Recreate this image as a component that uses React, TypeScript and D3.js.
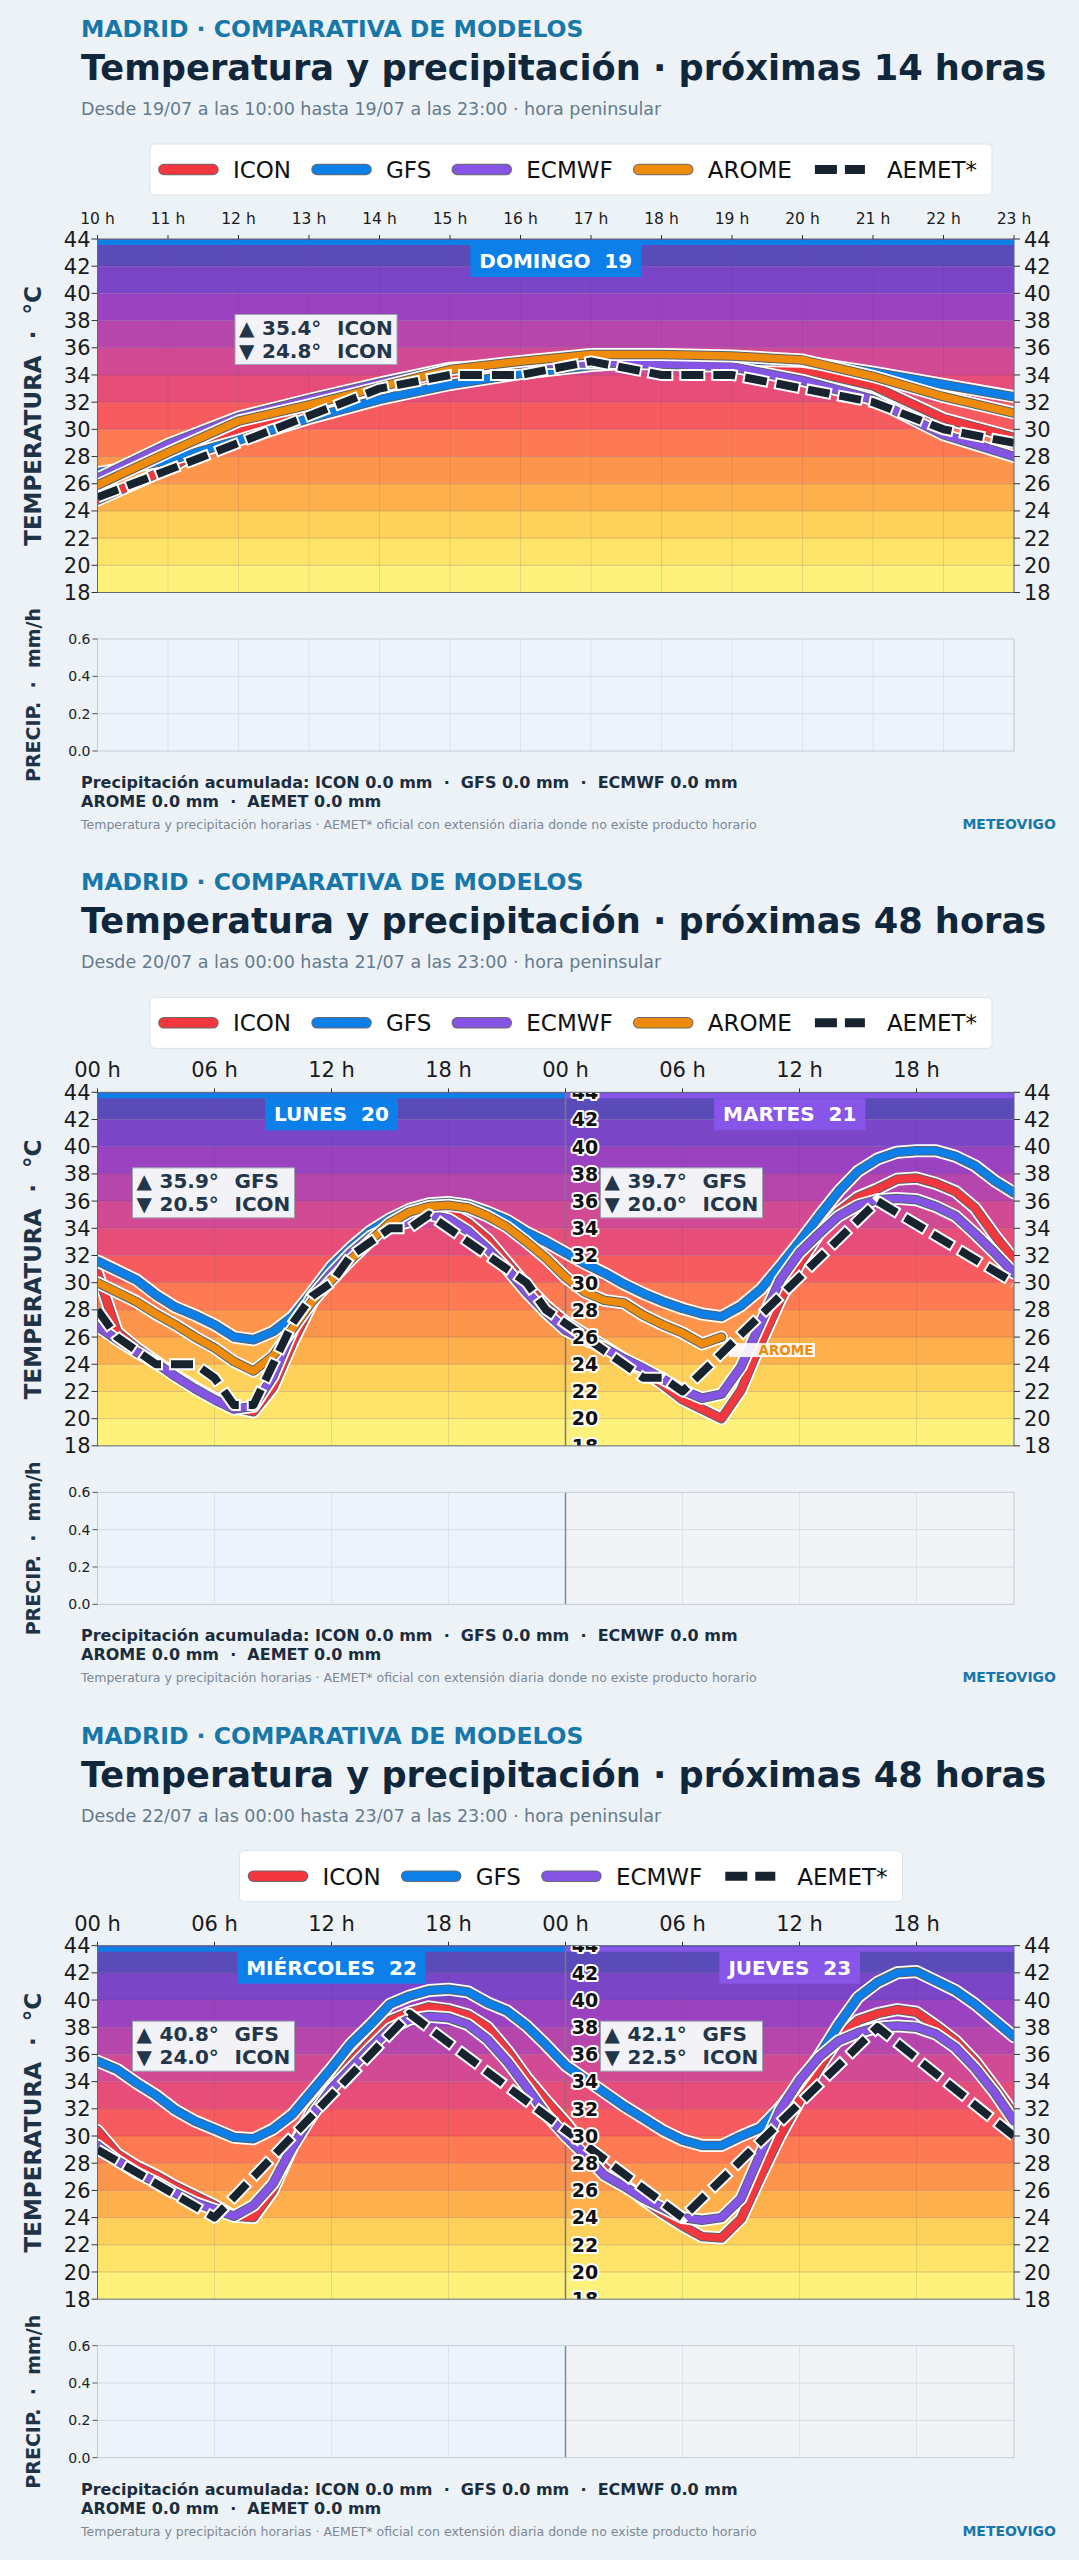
import React, { useEffect } from "react";
import * as d3 from "d3";

const W = 1079;
const H = 2560;
const PANEL_H = H / 3;
const FONT = "'DejaVu Sans', Verdana, sans-serif";

// plot frame (panel coordinates)
const PL = 97.5;
const PR = 1014;
const TT = 239;
const TB = 592.5;
const PT = 639;
const PB = 751;

const MODEL_COLORS: Record<string, string> = {
  ICON: "#f2383e",
  GFS: "#0c7fe9",
  ECMWF: "#8654e5",
  AROME: "#ef8b0b",
};
const AEMET_COLOR = "#17232f";

// temperature colour bands, 2 °C each
const bandStarts = [18, 20, 22, 24, 26, 28, 30, 32, 34, 36, 38, 40, 42];
const bandColors = [
  "#fef27c", "#fee469", "#fed25a", "#fdb04c", "#fd964c", "#fe7a52", "#f55b5f",
  "#e64d78", "#d24a93", "#b646ab", "#9a42c0", "#7a46c7", "#5b4bb8",
];
const tempTicks = [18, 20, 22, 24, 26, 28, 30, 32, 34, 36, 38, 40, 42, 44];
const precipTicks = [0, 0.2, 0.4, 0.6];

// ---- panel 1: 19/07 10 h … 23 h
const p1Hours = [10, 11, 12, 13, 14, 15, 16, 17, 18, 19, 20, 21, 22, 23];
const p1Icon = [24.8, 27.1, 29.9, 31.4, 32.8, 33.8, 34.6, 35.3, 35.4, 35.2, 34.4, 33.2, 30.8, 29.4];
const p1Gfs = [26.8, 27.7, 29.2, 30.8, 32.2, 33.3, 34.1, 34.7, 35.0, 35.1, 35.0, 34.2, 33.3, 32.4];
const p1Ecmwf = [26.4, 28.9, 30.9, 32.2, 33.4, 34.5, 34.8, 34.9, 34.8, 34.6, 33.6, 32.2, 29.6, 28.0];
const p1Arome = [25.9, 28.3, 30.6, 31.8, 33.1, 34.4, 35.0, 35.5, 35.5, 35.4, 35.1, 33.9, 32.4, 31.2];
const p1Aemet = [25, 27, 29, 31, 33, 34, 34, 35, 34, 34, 33, 32, 30, 29];

// ---- panel 2: 20/07 00 h … 21/07 23 h (hour 0..47)
const p2Icon = [
  30.7, 26.4, 25.2, 24.2, 23.2, 22.3, 21.5, 20.8, 20.5, 22.3, 25.6, 28.5, 30.5, 32.0, 33.3, 34.2,
  34.8, 35.2, 35.2, 34.4, 33.2, 31.5, 29.8, 28.3, 27.1, 26.2, 25.3, 24.4, 23.5, 22.5, 21.4, 20.7,
  20.0, 22.1, 25.5, 28.7, 31.4, 33.6, 35.2, 36.3, 36.9, 37.6, 37.7, 37.3, 36.7, 35.5, 33.5, 31.7,
];
const p2Gfs = [
  31.6, 30.9, 30.2, 29.1, 28.2, 27.6, 26.9, 26.0, 25.8, 26.4, 27.5, 29.3, 31.2, 32.6, 33.8, 34.7,
  35.4, 35.8, 35.9, 35.7, 35.2, 34.6, 33.7, 33.0, 32.2, 31.4, 30.7, 29.9, 29.2, 28.6, 28.1, 27.7,
  27.5, 28.3, 29.5, 31.2, 33.0, 34.9, 36.7, 38.2, 39.1, 39.6, 39.7, 39.7, 39.3, 38.6, 37.5, 36.6,
];
const p2Ecmwf = [
  26.8, 25.8, 24.9, 24.1, 23.1, 22.2, 21.4, 20.7, 20.9, 23.1, 26.5, 29.0, 30.7, 32.2, 33.4, 34.1,
  34.5, 35.0, 34.7, 33.8, 32.5, 31.0, 29.3, 27.8, 26.5, 25.8, 25.2, 24.4, 23.7, 22.9, 22.1, 21.5,
  21.8, 23.8, 27.0, 30.2, 32.2, 33.6, 34.9, 35.7, 36.1, 36.2, 36.1, 35.6, 34.9, 33.6, 32.2, 30.7,
];
const p2Arome = [
  30.0, 29.3, 28.6, 27.7, 26.9, 26.0, 25.2, 24.2, 23.5, 24.6, 26.6, 28.6, 30.2, 31.7, 33.1, 34.4,
  35.2, 35.6, 35.7, 35.5, 34.9, 34.1, 33.0, 31.8, 30.4, 29.3, 28.7, 28.5, 27.6, 26.9, 26.3, 25.5,
  26.0,
];
// AEMET: hourly product, then daily extension points [hour, °C]
const p2Aemet: [number, number][] = [
  [0, 28], [1, 26], [2, 25], [3, 24], [4, 24], [5, 24], [6, 23], [7, 21], [8, 21], [9, 24],
  [10, 27], [11, 29], [12, 30], [13, 32], [14, 33], [15, 34], [16, 34], [17, 35], [18, 34],
  [19, 33], [20, 32], [21, 31], [22, 30], [23, 28], [24, 27], [25, 26], [26, 25], [27, 24],
  [28, 23], [29, 23], [30, 22], [40, 36], [47, 30],
];

// ---- panel 3: 22/07 00 h … 23/07 23 h
const p3Icon = [
  30.4, 28.7, 27.8, 27.1, 26.3, 25.6, 24.9, 24.1, 24.0, 26.0, 29.2, 31.9, 33.6, 35.5, 37.0, 38.5,
  39.1, 39.5, 39.3, 38.9, 38.0, 36.3, 34.3, 32.6, 31.0, 29.2, 27.6, 26.5, 25.3, 24.3, 23.4, 22.6,
  22.5, 23.9, 27.0, 30.0, 32.6, 35.0, 37.2, 38.5, 39.0, 39.3, 39.1, 38.1, 37.0, 35.5, 33.6, 31.6,
];
const p3Gfs = [
  35.5, 34.9, 33.9, 33.0, 31.9, 31.1, 30.5, 29.9, 29.8, 30.5, 31.6, 33.3, 35.0, 36.8, 38.2, 39.7,
  40.3, 40.7, 40.8, 40.6, 39.8, 39.2, 38.1, 36.7, 35.2, 34.2, 33.2, 32.2, 31.3, 30.4, 29.7, 29.3,
  29.3, 30.0, 30.6, 32.1, 33.9, 35.9, 38.2, 40.2, 41.3, 42.0, 42.1, 41.4, 40.7, 39.7, 38.5, 37.3,
];
const p3Ecmwf = [
  29.3, 28.2, 27.3, 26.6, 25.8, 25.1, 24.6, 24.1, 24.9, 26.5, 29.2, 31.5, 33.5, 35.0, 36.5, 37.9,
  38.6, 38.8, 38.7, 38.2, 37.1, 35.5, 33.6, 31.6, 30.0, 28.6, 27.1, 26.3, 25.4, 24.7, 24.0, 23.8,
  24.0, 25.4, 28.7, 31.9, 34.1, 35.8, 37.0, 37.6, 38.0, 38.1, 38.0, 37.5, 36.5, 35.0, 33.2, 31.1,
];
const p3Aemet: [number, number][] = [[0, 29], [6, 24], [16, 39], [30, 24], [40, 38], [47, 30]];

const titles = [
  "Temperatura y precipitación · próximas 14 horas",
  "Temperatura y precipitación · próximas 48 horas",
  "Temperatura y precipitación · próximas 48 horas",
];
const subtitles = [
  "Desde 19/07 a las 10:00 hasta 19/07 a las 23:00 · hora peninsular",
  "Desde 20/07 a las 00:00 hasta 21/07 a las 23:00 · hora peninsular",
  "Desde 22/07 a las 00:00 hasta 23/07 a las 23:00 · hora peninsular",
];
const dayLabels = [["DOMINGO  19"], ["LUNES  20", "MARTES  21"], ["MIÉRCOLES  22", "JUEVES  23"]];
const maxTexts = [["35.4°", "ICON"], ["35.9°", "GFS"], ["39.7°", "GFS"], ["40.8°", "GFS"], ["42.1°", "GFS"]];
const minTexts = [["24.8°", "ICON"], ["20.5°", "ICON"], ["20.0°", "ICON"], ["24.0°", "ICON"], ["22.5°", "ICON"]];
const hourTicks24 = [0, 6, 12, 18, 24, 30, 36, 42];
const hourTickLabels24 = ["00 h", "06 h", "12 h", "18 h", "00 h", "06 h", "12 h", "18 h"];

type Series = { name: string; pts: [number, number][] };
type Day = { label: string; from: number; to: number; color: string; max: string[]; min: string[] };
type PanelCfg = {
  start: number;
  end: number;
  title: string;
  subtitle: string;
  legend: string[];
  series: Series[];
  aemet: [number, number][];
  days: Day[];
  boxOffset: number;
  ticks: number[];
  tickLabels: string[];
  tickFont: number;
  grid: number[];
  aromeTag: boolean;
};

const hourly = (start: number, vals: number[]): [number, number][] =>
  vals.map((v, i) => [start + i, v]);

const DAY_BLUE = "#0c7fe9";
const DAY_PURPLE = "#8756e8";

const panels: PanelCfg[] = [
  {
    start: 10, end: 23, title: titles[0], subtitle: subtitles[0],
    legend: ["ICON", "GFS", "ECMWF", "AROME", "AEMET*"],
    series: [
      { name: "ICON", pts: hourly(p1Hours[0], p1Icon) },
      { name: "GFS", pts: hourly(p1Hours[0], p1Gfs) },
      { name: "ECMWF", pts: hourly(p1Hours[0], p1Ecmwf) },
      { name: "AROME", pts: hourly(p1Hours[0], p1Arome) },
    ],
    aemet: hourly(p1Hours[0], p1Aemet),
    days: [{ label: dayLabels[0][0], from: 10, to: 23, color: DAY_BLUE, max: maxTexts[0], min: minTexts[0] }],
    boxOffset: 137.5,
    ticks: p1Hours,
    tickLabels: p1Hours.map((h) => `${h} h`),
    tickFont: 15.5,
    grid: p1Hours,
    aromeTag: false,
  },
  {
    start: 0, end: 47, title: titles[1], subtitle: subtitles[1],
    legend: ["ICON", "GFS", "ECMWF", "AROME", "AEMET*"],
    series: [
      { name: "ICON", pts: hourly(0, p2Icon) },
      { name: "GFS", pts: hourly(0, p2Gfs) },
      { name: "ECMWF", pts: hourly(0, p2Ecmwf) },
      { name: "AROME", pts: hourly(0, p2Arome) },
    ],
    aemet: p2Aemet,
    days: [
      { label: dayLabels[1][0], from: 0, to: 24, color: DAY_BLUE, max: maxTexts[1], min: minTexts[1] },
      { label: dayLabels[1][1], from: 24, to: 47, color: DAY_PURPLE, max: maxTexts[2], min: minTexts[2] },
    ],
    boxOffset: 35,
    ticks: hourTicks24,
    tickLabels: hourTickLabels24,
    tickFont: 21,
    grid: hourTicks24,
    aromeTag: true,
  },
  {
    start: 0, end: 47, title: titles[2], subtitle: subtitles[2],
    legend: ["ICON", "GFS", "ECMWF", "AEMET*"],
    series: [
      { name: "ICON", pts: hourly(0, p3Icon) },
      { name: "GFS", pts: hourly(0, p3Gfs) },
      { name: "ECMWF", pts: hourly(0, p3Ecmwf) },
    ],
    aemet: p3Aemet,
    days: [
      { label: dayLabels[2][0], from: 0, to: 24, color: DAY_BLUE, max: maxTexts[3], min: minTexts[3] },
      { label: dayLabels[2][1], from: 24, to: 47, color: DAY_PURPLE, max: maxTexts[4], min: minTexts[4] },
    ],
    boxOffset: 35,
    ticks: hourTicks24,
    tickLabels: hourTickLabels24,
    tickFont: 21,
    grid: hourTicks24,
    aromeTag: false,
  },
];

let ctx: CanvasRenderingContext2D | null = null;
function measure(text: string, font: string) {
  if (!ctx) ctx = document.createElement("canvas").getContext("2d");
  if (!ctx) return text.length * 12;
  ctx.font = font;
  return ctx.measureText(text).width;
}

const Legend: React.FC<{ items: string[] }> = ({ items }) => {
  const fs = 23;
  const font = `${fs}px "DejaVu Sans"`;
  const sw = 58;
  const widths = items.map((t) => measure(t, font));
  const total = 9 + 15 + widths.reduce((a, w) => a + sw + 16 + w, 0) + 21 * (items.length - 1);
  const x0 = 571 - total / 2;
  let cx = x0 + 9;
  const cy = 169.5;
  return (
    <g>
      <rect x={x0} y={144} width={total} height={51} rx={5} fill="#ffffff" stroke="#dde3ea" />
      {items.map((t, i) => {
        const sx = cx;
        cx += sw + 16 + widths[i] + 21;
        const isAemet = t.startsWith("AEMET");
        return (
          <g key={t}>
            {isAemet ? (
              <line x1={sx + 2} x2={sx + 52} y1={cy} y2={cy} stroke={AEMET_COLOR} strokeWidth={9} strokeDasharray="22 8" />
            ) : (
              <>
                <line x1={sx + 5} x2={sx + 54} y1={cy} y2={cy} stroke="#6b6b6b" strokeWidth={11.5} strokeLinecap="round" />
                <line x1={sx + 5} x2={sx + 54} y1={cy} y2={cy} stroke={MODEL_COLORS[t]} strokeWidth={9.5} strokeLinecap="round" />
              </>
            )}
            <text x={sx + sw + 16} y={cy + 8.5} fontSize={fs} fill="#111" fontFamily={FONT}>{t}</text>
          </g>
        );
      })}
    </g>
  );
};

const Panel: React.FC<{ p: PanelCfg; idx: number }> = ({ p, idx }) => {
  const x = d3.scaleLinear().domain([p.start, p.end]).range([PL, PR]);
  const y = d3.scaleLinear().domain([18, 44]).range([TB, TT]);
  const yp = d3.scaleLinear().domain([0, 0.6]).range([PB, PT]);
  const line = d3.line<[number, number]>().x((d) => x(d[0])).y((d) => y(d[1]));
  const clipId = `tclip${idx}`;
  const split = p.days.length > 1 ? p.days[1].from : null;
  const arome = p.series.find((s) => s.name === "AROME");
  const aromeEnd = arome ? arome.pts[arome.pts.length - 1] : null;

  return (
    <g transform={`translate(0,${idx * PANEL_H})`} fontFamily={FONT}>
      {/* header */}
      <text x={81} y={37} fontSize={23.5} fontWeight="bold" fill="#1677a8">MADRID · COMPARATIVA DE MODELOS</text>
      <text x={81} y={80} fontSize={35.2} fontWeight="bold" fill="#10263a">{p.title}</text>
      <text x={81} y={115} fontSize={17.5} fill="#647a8d">{p.subtitle}</text>
      <Legend items={p.legend} />

      <defs>
        <clipPath id={clipId}>
          <rect x={PL} y={TT} width={PR - PL} height={TB - TT} />
        </clipPath>
      </defs>

      {/* temperature bands */}
      {bandStarts.map((b, i) => (
        <rect key={b} x={PL} width={PR - PL} y={y(b + 2)} height={y(b) - y(b + 2)} fill={bandColors[i]} />
      ))}
      {tempTicks.slice(1, -1).map((t) => (
        <line key={t} x1={PL} x2={PR} y1={y(t)} y2={y(t)} stroke="#5a2a4a" strokeOpacity={0.2} />
      ))}
      {p.grid.map((h) => (
        <line key={h} x1={x(h)} x2={x(h)} y1={TT} y2={TB} stroke="#5a3a5a" strokeOpacity={0.13} />
      ))}

      {/* day strips */}
      {p.days.map((d) => (
        <rect key={d.label} x={x(d.from)} width={x(d.to) - x(d.from)} y={TT + 1} height={5} fill={d.color} />
      ))}

      <g clipPath={`url(#${clipId})`}>
        {split !== null && (
          <line x1={x(split)} x2={x(split)} y1={TT} y2={TB} stroke="#6f7c89" strokeWidth={1.5} />
        )}
        {p.series.map((s) => (
          <g key={s.name}>
            <path d={line(s.pts) || ""} fill="none" stroke="#ffffff" strokeWidth={13} strokeLinejoin="round" strokeLinecap="round" />
            <path d={line(s.pts) || ""} fill="none" stroke="#5a6068" strokeWidth={9.5} strokeLinejoin="round" strokeLinecap="round" />
            <path d={line(s.pts) || ""} fill="none" stroke={MODEL_COLORS[s.name]} strokeWidth={7.5} strokeLinejoin="round" strokeLinecap="round" />
          </g>
        ))}
        {p.aromeTag && aromeEnd && (
          <g>
            <rect x={x(aromeEnd[0]) + 7.5} y={y(aromeEnd[1]) + 6} width={86} height={14} fill="#ffffff" fillOpacity={0.9} />
            <text x={x(aromeEnd[0]) + 37} y={y(aromeEnd[1]) + 18} fontSize={13.5} fontWeight="bold" fill={MODEL_COLORS.AROME}>AROME</text>
          </g>
        )}
        <path d={line(p.aemet) || ""} fill="none" stroke="#ffffff" strokeWidth={12} strokeDasharray="26 6" strokeDashoffset={2} strokeLinejoin="round" />
        <path d={line(p.aemet) || ""} fill="none" stroke={AEMET_COLOR} strokeWidth={8} strokeDasharray="22 10" strokeLinejoin="round" />
        {split !== null &&
          tempTicks.map((t) => (
            <text key={t} x={x(split) + 19.5} y={y(t)} dy="0.36em" textAnchor="middle" fontSize={19} fontWeight="bold"
              fill="#111" stroke="#ffffff" strokeWidth={4} paintOrder="stroke" strokeLinejoin="round">{t}</text>
          ))}
      </g>

      {p.days.map((d) => {
        const cx = x((d.from + d.to) / 2);
        const tw = measure(d.label, `bold 20px "DejaVu Sans"`) + 18;
        const bx = x(d.from) + p.boxOffset;
        const by = TT + 75.5;
        return (
          <g key={d.label}>
            <rect x={cx - tw / 2} y={TT + 6} width={tw} height={32} fill={d.color} />
            <text x={cx} y={TT + 29} textAnchor="middle" fontSize={20} fontWeight="bold" fill="#ffffff" xmlSpace="preserve">{d.label}</text>
            <rect x={bx} y={by} width={162} height={50} fill="#f3f2f7" stroke="#9aa3b0" />
            <g fontSize={20} fontWeight="bold" fill="#233649">
              <text x={bx + 4} y={by + 20}>▲</text>
              <text x={bx + 27} y={by + 20}>{d.max[0]}</text>
              <text x={bx + 102} y={by + 20}>{d.max[1]}</text>
              <text x={bx + 4} y={by + 43}>▼</text>
              <text x={bx + 27} y={by + 43}>{d.min[0]}</text>
              <text x={bx + 102} y={by + 43}>{d.min[1]}</text>
            </g>
          </g>
        );
      })}

      <rect x={PL} y={TT} width={PR - PL} height={TB - TT} fill="none" stroke="#5f6b78" strokeWidth={1} />

      {/* axes */}
      {p.ticks.map((h, i) => (
        <g key={`t${i}`}>
          <line x1={x(h)} x2={x(h)} y1={TT - 4} y2={TT} stroke="#333" />
          <text x={x(h)} y={224} textAnchor="middle" fontSize={p.tickFont} fill="#1a1a1a">{p.tickLabels[i]}</text>
        </g>
      ))}
      {tempTicks.map((t) => (
        <g key={`y${t}`}>
          <line x1={PL - 6} x2={PL} y1={y(t)} y2={y(t)} stroke="#333" />
          <line x1={PR} x2={PR + 6} y1={y(t)} y2={y(t)} stroke="#333" />
          <text x={PL - 7} y={y(t)} dy="0.36em" textAnchor="end" fontSize={21} fill="#1a1a1a">{t}</text>
          <text x={PR + 10} y={y(t)} dy="0.36em" fontSize={21} fill="#1a1a1a">{t}</text>
        </g>
      ))}
      <text transform={`translate(33,416) rotate(-90)`} textAnchor="middle" dy="0.36em" fontSize={23} fontWeight="bold"
        fill="#1e3346" xmlSpace="preserve">TEMPERATURA  ·  °C</text>

      {/* precipitation */}
      {p.days.map((d, i) => (
        <rect key={`pb${i}`} x={x(d.from)} width={x(Math.min(d.to, p.end)) - x(d.from)} y={PT} height={PB - PT}
          fill={i === 0 ? "#edf3fb" : "#f1f3f7"} />
      ))}
      {precipTicks.slice(1, -1).map((t) => (
        <line key={t} x1={PL} x2={PR} y1={yp(t)} y2={yp(t)} stroke="#d3dbe4" />
      ))}
      {p.grid.map((h) => (
        <line key={h} x1={x(h)} x2={x(h)} y1={PT} y2={PB} stroke="#dce3ea" />
      ))}
      {split !== null && <line x1={x(split)} x2={x(split)} y1={PT} y2={PB} stroke="#7d8a97" strokeWidth={1.5} />}
      <rect x={PL} y={PT} width={PR - PL} height={PB - PT} fill="none" stroke="#c3cdd8" />
      {precipTicks.map((t) => (
        <g key={`p${t}`}>
          <line x1={PL - 5} x2={PL} y1={yp(t)} y2={yp(t)} stroke="#555" />
          <text x={PL - 7} y={yp(t)} dy="0.36em" textAnchor="end" fontSize={14} fill="#222">{t.toFixed(1)}</text>
        </g>
      ))}
      <text transform={`translate(33,695) rotate(-90)`} textAnchor="middle" dy="0.36em" fontSize={19} fontWeight="bold"
        fill="#1e3346" xmlSpace="preserve">PRECIP.  ·  mm/h</text>

      {/* footer */}
      <text x={81} y={788} fontSize={16} fontWeight="bold" fill="#1b2d3d" xmlSpace="preserve">
        Precipitación acumulada: ICON 0.0 mm  ·  GFS 0.0 mm  ·  ECMWF 0.0 mm
      </text>
      <text x={81} y={807} fontSize={16} fontWeight="bold" fill="#1b2d3d" xmlSpace="preserve">
        AROME 0.0 mm  ·  AEMET 0.0 mm
      </text>
      <text x={81} y={829} fontSize={12.5} fill="#7b8895">
        Temperatura y precipitación horarias · AEMET* oficial con extensión diaria donde no existe producto horario
      </text>
      <text x={1056} y={829} textAnchor="end" fontSize={14} fontWeight="bold" fill="#1677a8">METEOVIGO</text>
    </g>
  );
};

export default function App() {
  useEffect(() => {
    document.body.style.margin = "0";
    document.body.style.background = "#edf2f7";
  }, []);
  return (
    <div style={{ position: "absolute", left: 0, top: 0, width: W, height: H }}>
      <svg width={W} height={H} viewBox={`0 0 ${W} ${H}`}>
        <rect width={W} height={H} fill="#edf2f7" />
        {panels.map((p, i) => (
          <Panel key={i} p={p} idx={i} />
        ))}
      </svg>
    </div>
  );
}
